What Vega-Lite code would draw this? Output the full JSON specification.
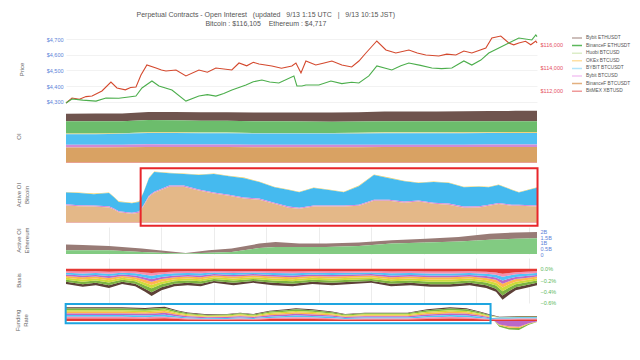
{
"$schema": "https://vega.github.io/schema/vega-lite/v6.json",
"background": "white",
"padding": {"left": 14, "top": 10, "right": 0, "bottom": 0},
"spacing": 4,
"bounds": "flush",
"title": {"text": ["Perpetual Contracts - Open Interest\u00a0\u00a0\u00a0(updated\u00a0\u00a0\u00a09/13 1:15 UTC\u00a0\u00a0\u00a0|\u00a0\u00a0\u00a09/13 10:15 JST)", "Bitcoin : $116,105\u00a0\u00a0\u00a0\u00a0Ethereum : $4,717"], "fontSize": 7, "fontWeight": "normal", "color": "#555", "lineHeight": 9, "offset": 6, "anchor": "middle", "dx": -57},
"config": {
  "font": "Liberation Sans",
  "view": {"stroke": null},
  "axis": {"labelFontSize": 5.5, "titleFontSize": 6, "titleFontWeight": "normal", "titleColor": "#666", "labelColor": "#666", "ticks": false, "domain": false, "gridColor": "#ececec", "labelPadding": 3},
  "title": {"fontSize": 6, "fontWeight": "normal", "color": "#666"}
},
"resolve": {"scale": {"fill": "independent", "color": "independent"}, "legend": {"fill": "independent", "color": "independent"}},
"datasets": {
"btc": [
{"t":1.45,"v":110974},{"t":2.37,"v":111402},{"t":3.5,"v":111300},{"t":4.5,"v":111520},{"t":5.42,"v":111573},{"t":6.93,"v":112000},{"t":8.3,"v":112770},{"t":9.22,"v":112257},{"t":10.5,"v":112100},{"t":11.3,"v":112300},{"t":12.12,"v":112342},{"t":12.88,"v":113368},{"t":13.78,"v":114223},{"t":15.17,"v":113967},{"t":16,"v":113800},{"t":16.68,"v":113710},{"t":18.22,"v":113796},{"t":19.73,"v":113283},{"t":21.72,"v":113796},{"t":23,"v":113600},{"t":24.3,"v":113967},{"t":26.73,"v":113796},{"t":27.82,"v":114394},{"t":29,"v":114150},{"t":30,"v":114450},{"t":30.87,"v":114309},{"t":32.83,"v":114138},{"t":34.3,"v":113950},{"t":35.88,"v":114138},{"t":36.5,"v":114394},{"t":37.27,"v":113539},{"t":38.02,"v":114565},{"t":39.53,"v":114223},{"t":40.8,"v":114400},{"t":41.98,"v":114565},{"t":43.5,"v":114223},{"t":45,"v":114050},{"t":46.1,"v":114565},{"t":47.17,"v":115249},{"t":48.83,"v":116275},{"t":50.22,"v":115506},{"t":51.73,"v":115249},{"t":53.72,"v":115506},{"t":55,"v":115250},{"t":56.3,"v":115078},{"t":58.28,"v":114993},{"t":59.5,"v":115150},{"t":60.88,"v":115078},{"t":62.1,"v":115420},{"t":63.32,"v":115249},{"t":65.45,"v":115677},{"t":66.37,"v":116532},{"t":67.73,"v":116703},{"t":68.95,"v":116104},{"t":69.7,"v":115950},{"t":70.48,"v":116104},{"t":71.5,"v":116250},{"t":72.3,"v":115950},{"t":73.07,"v":116275},{"t":73.25,"v":116105}
],
"eth": [
{"t":1.45,"v":4292},{"t":2.36,"v":4317},{"t":4,"v":4310},{"t":6.02,"v":4304},{"t":7.54,"v":4324},{"t":9.5,"v":4322},{"t":11,"v":4330},{"t":12.11,"v":4336},{"t":13.03,"v":4388},{"t":14.55,"v":4433},{"t":15.62,"v":4401},{"t":17.6,"v":4375},{"t":19.73,"v":4304},{"t":21.71,"v":4336},{"t":23,"v":4345},{"t":24.3,"v":4336},{"t":25.5,"v":4352},{"t":26.74,"v":4375},{"t":28.88,"v":4407},{"t":30,"v":4428},{"t":31.31,"v":4439},{"t":32.5,"v":4426},{"t":33.9,"v":4420},{"t":36.19,"v":4465},{"t":36.65,"v":4401},{"t":37.41,"v":4401},{"t":38.02,"v":4407},{"t":40,"v":4407},{"t":41.83,"v":4433},{"t":43.5,"v":4416},{"t":45,"v":4425},{"t":46.1,"v":4420},{"t":47.62,"v":4465},{"t":48.84,"v":4529},{"t":51.12,"v":4503},{"t":52.5,"v":4530},{"t":53.71,"v":4548},{"t":55.5,"v":4533},{"t":57.22,"v":4516},{"t":58.7,"v":4512},{"t":60.27,"v":4516},{"t":62.1,"v":4561},{"t":63.31,"v":4535},{"t":64.69,"v":4567},{"t":65.9,"v":4612},{"t":67.43,"v":4644},{"t":68.95,"v":4676},{"t":70.48,"v":4708},{"t":72.46,"v":4696},{"t":73.07,"v":4728},{"t":73.25,"v":4717}
],
"oi": [
{"t":1.45,"a":5.4,"b":8.6,"c":0.2,"d":0.3,"e":7.4,"f":1.9,"g":10.6,"h":0.3},
{"t":6,"a":5.5,"b":8.5,"c":0.2,"d":0.3,"e":7.5,"f":1.9,"g":10.6,"h":0.3},
{"t":10,"a":5.5,"b":8.4,"c":0.2,"d":0.3,"e":7.6,"f":1.9,"g":10.7,"h":0.3},
{"t":14,"a":5.7,"b":8.6,"c":0.2,"d":0.3,"e":7.9,"f":1.9,"g":11.0,"h":0.3},
{"t":18,"a":5.8,"b":8.5,"c":0.2,"d":0.3,"e":8.0,"f":1.8,"g":11.0,"h":0.3},
{"t":22,"a":5.9,"b":8.4,"c":0.2,"d":0.3,"e":7.9,"f":1.8,"g":10.9,"h":0.3},
{"t":26,"a":6.0,"b":8.3,"c":0.2,"d":0.3,"e":7.9,"f":1.8,"g":10.9,"h":0.3},
{"t":30,"a":6.2,"b":8.2,"c":0.2,"d":0.3,"e":7.8,"f":1.8,"g":10.8,"h":0.3},
{"t":34,"a":6.3,"b":8.1,"c":0.2,"d":0.3,"e":7.8,"f":1.8,"g":10.8,"h":0.3},
{"t":38,"a":6.4,"b":8.0,"c":0.2,"d":0.3,"e":7.8,"f":1.8,"g":10.8,"h":0.3},
{"t":42,"a":6.5,"b":7.9,"c":0.2,"d":0.3,"e":7.8,"f":1.8,"g":10.8,"h":0.3},
{"t":46,"a":6.6,"b":7.9,"c":0.2,"d":0.3,"e":7.9,"f":1.8,"g":10.8,"h":0.3},
{"t":50,"a":6.8,"b":7.8,"c":0.3,"d":0.4,"e":8.0,"f":1.7,"g":10.9,"h":0.3},
{"t":54,"a":6.9,"b":7.7,"c":0.3,"d":0.4,"e":8.0,"f":1.7,"g":10.9,"h":0.3},
{"t":58,"a":7.0,"b":7.7,"c":0.3,"d":0.4,"e":8.0,"f":1.7,"g":10.9,"h":0.3},
{"t":62,"a":7.1,"b":7.6,"c":0.3,"d":0.4,"e":8.1,"f":1.7,"g":10.9,"h":0.3},
{"t":66,"a":7.2,"b":7.6,"c":0.3,"d":0.4,"e":8.1,"f":1.7,"g":11.0,"h":0.3},
{"t":70,"a":7.3,"b":7.5,"c":0.3,"d":0.4,"e":8.2,"f":1.7,"g":11.0,"h":0.3},
{"t":73.25,"a":7.4,"b":7.5,"c":0.3,"d":0.4,"e":8.2,"f":1.7,"g":11.0,"h":0.3}
],
"abtc": [
{"t":1.45,"d":0.02,"e":0.43,"f":0.04,"g":0.62,"h":0.015},
{"t":3.4,"d":0.02,"e":0.44,"f":0.04,"g":0.59,"h":0.015},
{"t":5.7,"d":0.02,"e":0.41,"f":0.04,"g":0.58,"h":0.015},
{"t":8,"d":0.02,"e":0.48,"f":0.04,"g":0.55,"h":0.015},
{"t":8.76,"d":0.02,"e":0.41,"f":0.04,"g":0.47,"h":0.015},
{"t":9.5,"d":0.02,"e":0.34,"f":0.04,"g":0.37,"h":0.015},
{"t":11.5,"d":0.02,"e":0.34,"f":0.04,"g":0.32,"h":0.015},
{"t":12.6,"d":0.02,"e":0.35,"f":0.04,"g":0.36,"h":0.015},
{"t":13.3,"d":0.02,"e":0.46,"f":0.04,"g":0.61,"h":0.015},
{"t":14.1,"d":0.02,"e":0.63,"f":0.04,"g":0.94,"h":0.015},
{"t":14.9,"d":0.02,"e":0.71,"f":0.04,"g":1.08,"h":0.015},
{"t":17.2,"d":0.02,"e":0.45,"f":0.04,"g":1.30,"h":0.015},
{"t":19.4,"d":0.02,"e":0.42,"f":0.04,"g":1.30,"h":0.015},
{"t":21.7,"d":0.02,"e":0.52,"f":0.04,"g":1.16,"h":0.015},
{"t":24,"d":0.02,"e":0.67,"f":0.04,"g":1.05,"h":0.015},
{"t":26.3,"d":0.02,"e":0.67,"f":0.04,"g":0.97,"h":0.015},
{"t":28.6,"d":0.02,"e":0.70,"f":0.04,"g":0.87,"h":0.015},
{"t":30.9,"d":0.02,"e":0.60,"f":0.04,"g":0.83,"h":0.015},
{"t":33.2,"d":0.02,"e":0.56,"f":0.04,"g":0.68,"h":0.015},
{"t":35.4,"d":0.02,"e":0.60,"f":0.04,"g":0.54,"h":0.015},
{"t":37,"d":0.02,"e":0.56,"f":0.04,"g":0.50,"h":0.015},
{"t":39.2,"d":0.02,"e":0.63,"f":0.04,"g":0.58,"h":0.015},
{"t":41.5,"d":0.02,"e":0.56,"f":0.04,"g":0.58,"h":0.015},
{"t":43.8,"d":0.02,"e":0.48,"f":0.04,"g":0.58,"h":0.015},
{"t":46.1,"d":0.02,"e":0.67,"f":0.04,"g":0.61,"h":0.015},
{"t":48.4,"d":0.02,"e":0.89,"f":0.04,"g":0.79,"h":0.015},
{"t":50.7,"d":0.02,"e":0.78,"f":0.04,"g":0.79,"h":0.015},
{"t":53,"d":0.02,"e":0.74,"f":0.04,"g":0.72,"h":0.015},
{"t":55.2,"d":0.02,"e":0.63,"f":0.04,"g":0.76,"h":0.015},
{"t":57.5,"d":0.02,"e":0.75,"f":0.04,"g":0.68,"h":0.015},
{"t":59.8,"d":0.02,"e":0.74,"f":0.04,"g":0.65,"h":0.015},
{"t":62.1,"d":0.02,"e":0.70,"f":0.04,"g":0.54,"h":0.015},
{"t":64.4,"d":0.02,"e":0.71,"f":0.04,"g":0.55,"h":0.015},
{"t":65.9,"d":0.02,"e":0.63,"f":0.04,"g":0.61,"h":0.015},
{"t":67.4,"d":0.02,"e":0.65,"f":0.04,"g":0.67,"h":0.015},
{"t":69.4,"d":0.02,"e":0.53,"f":0.04,"g":0.61,"h":0.015},
{"t":70.5,"d":0.02,"e":0.44,"f":0.04,"g":0.61,"h":0.015},
{"t":73.25,"d":0.02,"e":0.64,"f":0.04,"g":0.58,"h":0.015}
],
"aeth": [
{"t":1.45,"a":0.50,"b":0.33},{"t":4,"a":0.47,"b":0.33},{"t":8,"a":0.38,"b":0.33},{"t":13,"a":0.30,"b":0.18},{"t":16.7,"a":0.18,"b":0.09},{"t":19.7,"a":0.05,"b":0.04},{"t":23.2,"a":0.21,"b":0.12},{"t":26.7,"a":0.30,"b":0.18},{"t":30.9,"a":0.39,"b":0.53},{"t":33.4,"a":0.44,"b":0.62},{"t":37,"a":0.30,"b":0.62},{"t":41.1,"a":0.30,"b":0.62},{"t":46.1,"a":0.30,"b":0.71},{"t":51.1,"a":0.29,"b":0.92},{"t":56.3,"a":0.35,"b":1.01},{"t":61.3,"a":0.40,"b":1.10},{"t":66,"a":0.55,"b":1.25},{"t":70,"a":0.55,"b":1.35},{"t":73.25,"a":0.55,"b":1.40}
],
"basis": [
{"t":1.45,"h":-0.043,"g":-0.027,"f":-0.032,"e":-0.027,"d":-0.032,"c":-0.032,"b":-0.038,"a":-0.038},
{"t":4,"h":-0.051,"g":-0.032,"f":-0.038,"e":-0.032,"d":-0.038,"c":-0.038,"b":-0.045,"a":-0.045},
{"t":6,"h":-0.046,"g":-0.029,"f":-0.035,"e":-0.029,"d":-0.035,"c":-0.035,"b":-0.041,"a":-0.041},
{"t":8,"h":-0.054,"g":-0.034,"f":-0.041,"e":-0.034,"d":-0.041,"c":-0.041,"b":-0.048,"a":-0.048},
{"t":10,"h":-0.043,"g":-0.027,"f":-0.032,"e":-0.027,"d":-0.032,"c":-0.032,"b":-0.038,"a":-0.038},
{"t":12,"h":-0.050,"g":-0.031,"f":-0.037,"e":-0.031,"d":-0.037,"c":-0.037,"b":-0.043,"a":-0.043},
{"t":13.5,"h":-0.066,"g":-0.041,"f":-0.049,"e":-0.041,"d":-0.049,"c":-0.049,"b":-0.057,"a":-0.057},
{"t":14.5,"h":-0.077,"g":-0.048,"f":-0.058,"e":-0.048,"d":-0.058,"c":-0.058,"b":-0.067,"a":-0.067},
{"t":16,"h":-0.061,"g":-0.038,"f":-0.046,"e":-0.038,"d":-0.046,"c":-0.046,"b":-0.053,"a":-0.053},
{"t":18,"h":-0.050,"g":-0.031,"f":-0.037,"e":-0.031,"d":-0.037,"c":-0.037,"b":-0.043,"a":-0.043},
{"t":20,"h":-0.046,"g":-0.029,"f":-0.035,"e":-0.029,"d":-0.035,"c":-0.035,"b":-0.041,"a":-0.041},
{"t":22,"h":-0.050,"g":-0.031,"f":-0.037,"e":-0.031,"d":-0.037,"c":-0.037,"b":-0.043,"a":-0.043},
{"t":24,"h":-0.040,"g":-0.025,"f":-0.030,"e":-0.025,"d":-0.030,"c":-0.030,"b":-0.035,"a":-0.035},
{"t":27,"h":-0.046,"g":-0.029,"f":-0.035,"e":-0.029,"d":-0.035,"c":-0.035,"b":-0.041,"a":-0.041},
{"t":30,"h":-0.040,"g":-0.025,"f":-0.030,"e":-0.025,"d":-0.030,"c":-0.030,"b":-0.035,"a":-0.035},
{"t":33,"h":-0.046,"g":-0.029,"f":-0.035,"e":-0.029,"d":-0.035,"c":-0.035,"b":-0.041,"a":-0.041},
{"t":36,"h":-0.050,"g":-0.031,"f":-0.037,"e":-0.031,"d":-0.037,"c":-0.037,"b":-0.043,"a":-0.043},
{"t":39,"h":-0.043,"g":-0.027,"f":-0.032,"e":-0.027,"d":-0.032,"c":-0.032,"b":-0.038,"a":-0.038},
{"t":42,"h":-0.046,"g":-0.029,"f":-0.035,"e":-0.029,"d":-0.035,"c":-0.035,"b":-0.041,"a":-0.041},
{"t":45,"h":-0.043,"g":-0.027,"f":-0.032,"e":-0.027,"d":-0.032,"c":-0.032,"b":-0.038,"a":-0.038},
{"t":48,"h":-0.040,"g":-0.025,"f":-0.030,"e":-0.025,"d":-0.030,"c":-0.030,"b":-0.035,"a":-0.035},
{"t":51,"h":-0.050,"g":-0.031,"f":-0.037,"e":-0.031,"d":-0.037,"c":-0.037,"b":-0.043,"a":-0.043},
{"t":54,"h":-0.046,"g":-0.029,"f":-0.035,"e":-0.029,"d":-0.035,"c":-0.035,"b":-0.041,"a":-0.041},
{"t":57,"h":-0.051,"g":-0.032,"f":-0.038,"e":-0.032,"d":-0.038,"c":-0.038,"b":-0.045,"a":-0.045},
{"t":60,"h":-0.051,"g":-0.032,"f":-0.038,"e":-0.032,"d":-0.038,"c":-0.038,"b":-0.045,"a":-0.045},
{"t":63,"h":-0.046,"g":-0.029,"f":-0.035,"e":-0.029,"d":-0.035,"c":-0.035,"b":-0.041,"a":-0.041},
{"t":65.5,"h":-0.054,"g":-0.034,"f":-0.041,"e":-0.034,"d":-0.041,"c":-0.041,"b":-0.048,"a":-0.048},
{"t":67,"h":-0.066,"g":-0.041,"f":-0.049,"e":-0.041,"d":-0.049,"c":-0.049,"b":-0.057,"a":-0.057},
{"t":68,"h":-0.088,"g":-0.055,"f":-0.066,"e":-0.055,"d":-0.066,"c":-0.066,"b":-0.077,"a":-0.077},
{"t":69,"h":-0.074,"g":-0.046,"f":-0.055,"e":-0.046,"d":-0.055,"c":-0.055,"b":-0.064,"a":-0.064},
{"t":70,"h":-0.061,"g":-0.038,"f":-0.046,"e":-0.038,"d":-0.046,"c":-0.046,"b":-0.053,"a":-0.053},
{"t":71.5,"h":-0.054,"g":-0.034,"f":-0.041,"e":-0.034,"d":-0.041,"c":-0.041,"b":-0.048,"a":-0.048},
{"t":73.25,"h":-0.046,"g":-0.029,"f":-0.035,"e":-0.029,"d":-0.035,"c":-0.035,"b":-0.041,"a":-0.041}
],
"fund": [
{"t":1.45,"h":0.013,"g":0.009,"f":0.009,"e":0.009,"d":0.009,"c":0.008,"b":0.009,"a":0.006},
{"t":6,"h":0.013,"g":0.009,"f":0.009,"e":0.009,"d":0.009,"c":0.008,"b":0.009,"a":0.006},
{"t":10,"h":0.013,"g":0.009,"f":0.009,"e":0.009,"d":0.009,"c":0.008,"b":0.009,"a":0.006},
{"t":13.5,"h":0.012,"g":0.008,"f":0.009,"e":0.009,"d":0.008,"c":0.008,"b":0.009,"a":0.005},
{"t":15,"h":0.013,"g":0.009,"f":0.009,"e":0.009,"d":0.009,"c":0.008,"b":0.009,"a":0.006},
{"t":16.5,"h":0.014,"g":0.009,"f":0.010,"e":0.010,"d":0.009,"c":0.008,"b":0.009,"a":0.006},
{"t":18.5,"h":0.010,"g":0.007,"f":0.007,"e":0.007,"d":0.007,"c":0.006,"b":0.007,"a":0.004},
{"t":20,"h":0.008,"g":0.005,"f":0.006,"e":0.006,"d":0.005,"c":0.005,"b":0.006,"a":0.004},
{"t":23,"h":0.006,"g":0.004,"f":0.005,"e":0.005,"d":0.004,"c":0.004,"b":0.004,"a":0.003},
{"t":26,"h":0.007,"g":0.004,"f":0.005,"e":0.005,"d":0.004,"c":0.004,"b":0.005,"a":0.003},
{"t":28,"h":0.008,"g":0.005,"f":0.006,"e":0.006,"d":0.005,"c":0.005,"b":0.006,"a":0.003},
{"t":30,"h":0.007,"g":0.004,"f":0.005,"e":0.005,"d":0.004,"c":0.004,"b":0.005,"a":0.003},
{"t":32.5,"h":0.010,"g":0.006,"f":0.007,"e":0.007,"d":0.007,"c":0.006,"b":0.007,"a":0.004},
{"t":35,"h":0.011,"g":0.007,"f":0.008,"e":0.008,"d":0.008,"c":0.007,"b":0.008,"a":0.005},
{"t":36.5,"h":0.012,"g":0.008,"f":0.009,"e":0.009,"d":0.008,"c":0.007,"b":0.009,"a":0.005},
{"t":39,"h":0.011,"g":0.007,"f":0.008,"e":0.008,"d":0.008,"c":0.007,"b":0.008,"a":0.005},
{"t":42,"h":0.009,"g":0.006,"f":0.007,"e":0.007,"d":0.006,"c":0.005,"b":0.006,"a":0.004},
{"t":44,"h":0.007,"g":0.004,"f":0.005,"e":0.005,"d":0.004,"c":0.004,"b":0.005,"a":0.003},
{"t":47,"h":0.008,"g":0.005,"f":0.006,"e":0.006,"d":0.005,"c":0.005,"b":0.006,"a":0.003},
{"t":50,"h":0.008,"g":0.005,"f":0.006,"e":0.006,"d":0.005,"c":0.005,"b":0.006,"a":0.003},
{"t":53.5,"h":0.008,"g":0.005,"f":0.006,"e":0.006,"d":0.005,"c":0.005,"b":0.006,"a":0.003},
{"t":56.5,"h":0.011,"g":0.007,"f":0.008,"e":0.008,"d":0.008,"c":0.007,"b":0.008,"a":0.005},
{"t":60,"h":0.013,"g":0.009,"f":0.009,"e":0.009,"d":0.009,"c":0.008,"b":0.009,"a":0.006},
{"t":62.5,"h":0.012,"g":0.008,"f":0.009,"e":0.009,"d":0.008,"c":0.007,"b":0.009,"a":0.005},
{"t":64.5,"h":0.009,"g":0.006,"f":0.007,"e":0.007,"d":0.006,"c":0.005,"b":0.006,"a":0.004},
{"t":66,"h":0.006,"g":0.004,"f":0.005,"e":0.005,"d":0.004,"c":0.004,"b":0.004,"a":0.003},
{"t":67.5,"h":0.007,"g":0.005,"f":0.006,"e":-0.018,"d":-0.004,"c":0.002,"b":-0.008,"a":0.002},
{"t":69,"h":0.007,"g":0.005,"f":0.007,"e":-0.028,"d":-0.007,"c":0.002,"b":-0.010,"a":0.003},
{"t":70.5,"h":0.008,"g":0.005,"f":0.007,"e":-0.030,"d":-0.007,"c":0.003,"b":-0.011,"a":0.003},
{"t":72,"h":0.008,"g":0.005,"f":0.007,"e":-0.012,"d":-0.003,"c":0.003,"b":-0.005,"a":0.003},
{"t":73.25,"h":0.008,"g":0.005,"f":0.007,"e":-0.003,"d":-0.001,"c":0.003,"b":-0.001,"a":0.003}
],
"leg": [{"s":"Bybit ETHUSDT"},{"s":"BinanceF ETHUSDT"},{"s":"Huobi BTCUSD"},{"s":"OKEx BTCUSD"},{"s":"BYBIT BTCUSDT"},{"s":"Bybit BTCUSD"},{"s":"BinanceF BTCUSDT"},{"s":"BitMEX XBTUSD"}],
"box1": [{"t1":12.83,"t2":73.33,"v1":1.98,"v2":-0.098}],
"box2": [{"t1":1.4,"t2":66.17,"v1":0.0895,"v2":-0.0121}]
},
"vconcat": [
{
 "width": 471, "height": 73,
 "title": {"text": "Price", "orient": "left", "anchor": "middle", "offset": 21},
 "resolve": {"scale": {"y": "independent"}},
 "layer": [
  {"data": {"name": "btc"}, "mark": {"type": "line", "color": "#d4492e", "strokeWidth": 1.1},
   "encoding": {
    "x": {"field": "t", "type": "quantitative", "scale": {"domain": [1.45, 73.25], "nice": false, "zero": false}, "axis": {"labels": false, "ticks": false, "domain": false, "title": null, "grid": true, "values": [8,16,24,32,40,48,56,64,72]}},
    "y": {"field": "v", "type": "quantitative", "scale": {"domain": [110717, 116959], "nice": false, "zero": false}, "axis": {"orient": "right", "values": [112000, 114000, 116000], "format": "$,.0f", "labelColor": "#e5505f", "grid": false, "title": null}}
   }},
  {"data": {"name": "eth"}, "mark": {"type": "line", "color": "#4cae4c", "strokeWidth": 1.1},
   "encoding": {
    "x": {"field": "t", "type": "quantitative", "axis": null},
    "y": {"field": "v", "type": "quantitative", "scale": {"domain": [4272.4, 4740.4], "nice": false, "zero": false}, "axis": {"orient": "left", "values": [4300, 4400, 4500, 4600, 4700], "format": "$,.0f", "labelColor": "#5b82d8", "grid": true, "gridColor": "#f2f2f2", "title": null}}
   }}
 ]
},
{
 "width": 471, "height": 53,
 "title": {"text": "OI", "orient": "left", "anchor": "middle", "offset": 44},
 "layer": [
  {"data": {"name": "oi"}, "transform": [{"fold": ["a","b","c","d","e","f","g","h"], "as": ["key","value"]}],
   "mark": {"type": "area"},
   "encoding": {
    "x": {"field": "t", "type": "quantitative", "scale": {"domain": [1.45, 73.25], "nice": false, "zero": false}, "axis": {"labels": false, "ticks": false, "domain": false, "title": null, "grid": true, "values": [8,16,24,32,40,48,56,64,72]}},
    "y": {"field": "value", "type": "quantitative", "stack": "zero", "scale": {"domain": [0, 37.3], "nice": false}, "axis": {"orient": "right", "values": [0, 10, 20, 30], "format": "~g", "labelExpr": "datum.value == 0 ? '0' : datum.label + 'B'", "grid": false, "title": null}},
    "fill": {"field": "key", "type": "nominal", "scale": {"domain": ["a","b","c","d","e","f","g","h"], "range": ["#6f544e","#6cbd6c","#c5e1a5","#f2c45a","#50c0f2","#d08ad6","#d9a263","#e57373"]}, "legend": null}
   }},
  {"data": {"name": "leg"}, "mark": {"type": "line"},
   "encoding": {
    "x": {"field": "t", "type": "quantitative", "axis": null},
    "y": {"field": "value", "type": "quantitative", "axis": null},
    "color": {"field": "s", "type": "nominal", "scale": {"domain": ["Bybit ETHUSDT","BinanceF ETHUSDT","Huobi BTCUSD","OKEx BTCUSD","BYBIT BTCUSDT","Bybit BTCUSD","BinanceF BTCUSDT","BitMEX XBTUSD"], "range": ["#bcaaa4","#5cb85c","#dcedc8","#ffe0a3","#b3e5fc","#f3c6f3","#e3b07f","#ef9a9a"]},
      "legend": {"orient": "none", "legendX": 505, "legendY": -75, "title": null, "symbolType": "stroke", "symbolSize": 100, "symbolStrokeWidth": 1.5, "labelFontSize": 4.8, "labelColor": "#555", "rowPadding": 1.6, "clipHeight": 6, "labelOffset": 3}}
   }}
 ]
},
{
 "width": 471, "height": 56,
 "title": {"text": ["Active OI", "Bitcoin"], "orient": "left", "anchor": "middle", "offset": 36, "lineHeight": 8},
 "layer": [
  {"data": {"name": "abtc"}, "transform": [{"fold": ["d","e","f","g","h"], "as": ["key","value"]}],
   "mark": {"type": "area"},
   "encoding": {
    "x": {"field": "t", "type": "quantitative", "scale": {"domain": [1.45, 73.25], "nice": false, "zero": false}, "axis": {"labels": false, "ticks": false, "domain": false, "title": null, "grid": true, "values": [8,16,24,32,40,48,56,64,72]}},
    "y": {"field": "value", "type": "quantitative", "stack": "zero", "scale": {"domain": [0, 2.029], "nice": false}, "axis": {"orient": "right", "values": [0, 0.5, 1, 1.5], "format": "~g", "labelExpr": "datum.value == 0 ? '0' : datum.label + 'B'", "labelColor": "#e5505f", "grid": false, "title": null}},
    "fill": {"field": "key", "type": "nominal", "scale": {"domain": ["d","e","f","g","h"], "range": ["#f0cf5a","#45baef","#d48bd8","#e4b888","#e8909a"]}, "legend": null}
   }},
  {"data": {"name": "box1"}, "mark": {"type": "rect", "filled": false, "color": "#e8262b", "strokeWidth": 2},
   "encoding": {
    "x": {"field": "t1", "type": "quantitative", "axis": null},
    "x2": {"field": "t2"},
    "y": {"field": "v1", "type": "quantitative", "axis": null},
    "y2": {"field": "v2"}
   }}
 ]
},
{
 "width": 471, "height": 27,
 "title": {"text": ["Active OI", "Ethereum"], "orient": "left", "anchor": "middle", "offset": 36, "lineHeight": 8},
 "layer": [
  {"data": {"name": "aeth"}, "transform": [{"fold": ["a","b"], "as": ["key","value"]}],
   "mark": {"type": "area"},
   "encoding": {
    "x": {"field": "t", "type": "quantitative", "scale": {"domain": [1.45, 73.25], "nice": false, "zero": false}, "axis": {"labels": false, "ticks": false, "domain": false, "title": null, "grid": true, "values": [8,16,24,32,40,48,56,64,72]}},
    "y": {"field": "value", "type": "quantitative", "stack": "zero", "scale": {"domain": [0, 2.389], "nice": false}, "axis": {"orient": "right", "values": [0, 0.5, 1, 1.5, 2], "format": "~g", "labelExpr": "datum.value == 0 ? '0' : datum.label + 'B'", "labelColor": "#5b82d8", "grid": false, "title": null}},
    "fill": {"field": "key", "type": "nominal", "scale": {"domain": ["a","b"], "range": ["#987b76","#82cb82"]}, "legend": null}
   }}
 ]
},
{
 "width": 471, "height": 45,
 "title": {"text": "Basis", "orient": "left", "anchor": "middle", "offset": 44},
 "layer": [
  {"data": {"name": "basis"}, "transform": [{"fold": ["a","b","c","d","e","f","g","h"], "as": ["key","value"]}],
   "mark": {"type": "area"},
   "encoding": {
    "x": {"field": "t", "type": "quantitative", "scale": {"domain": [1.45, 73.25], "nice": false, "zero": false}, "axis": {"labels": false, "ticks": false, "domain": false, "title": null, "grid": true, "values": [8,16,24,32,40,48,56,64,72]}},
    "y": {"field": "value", "type": "quantitative", "stack": "zero", "scale": {"domain": [-0.6055, 0.189], "nice": false, "zero": false}, "axis": {"orient": "right", "values": [0, -0.2, -0.4, -0.6], "format": ".1f", "labelExpr": "datum.label + '%'", "labelColor": "#5cb85c", "grid": false, "title": null}},
    "fill": {"field": "key", "type": "nominal", "scale": {"domain": ["a","b","c","d","e","f","g","h"], "range": ["#5d4037","#7cb342","#cddc39","#ffb74d","#ba68c8","#4fc3f7","#f48fb1","#e53935"]}, "legend": null}
   }}
 ]
},
{
 "width": 471, "height": 27,
 "title": {"text": ["Funding", "Rate"], "orient": "left", "anchor": "middle", "offset": 36, "lineHeight": 8},
 "layer": [
  {"data": {"name": "fund"}, "transform": [{"fold": ["a","b","c","d","e","f","g","h"], "as": ["key","value"]}],
   "mark": {"type": "area"},
   "encoding": {
    "x": {"field": "t", "type": "quantitative", "scale": {"domain": [1.45, 73.25], "nice": false, "zero": false}, "axis": {"labels": true, "ticks": false, "domain": false, "title": null, "grid": true, "values": [8,16,24,32,40,48,56,64,72], "labelExpr": "datum.value == 8 ? ['08:00', '9/10'] : (datum.value % 24 == 0 ? ['00:00', '9/' + (10 + datum.value / 24)] : ((datum.value % 24 < 10 ? '0' : '') + (datum.value % 24) + ':00'))", "labelLineHeight": 7.5, "labelPadding": 6}},
    "y": {"field": "value", "type": "quantitative", "stack": "zero", "scale": {"domain": [-0.0684, 0.0737], "nice": false, "zero": false}, "axis": {"orient": "right", "values": [0.05, 0, -0.05], "format": ".2f", "labelExpr": "datum.label + '%'", "grid": false, "title": null}},
    "fill": {"field": "key", "type": "nominal", "scale": {"domain": ["a","b","c","d","e","f","g","h"], "range": ["#5d4037","#7cb342","#cddc39","#ffb74d","#ba68c8","#4fc3f7","#f48fb1","#e53935"]}, "legend": null}
   }},
  {"data": {"name": "box2"}, "mark": {"type": "rect", "filled": false, "color": "#1ea5e0", "strokeWidth": 2},
   "encoding": {
    "x": {"field": "t1", "type": "quantitative", "axis": null},
    "x2": {"field": "t2"},
    "y": {"field": "v1", "type": "quantitative", "axis": null},
    "y2": {"field": "v2"}
   }}
 ]
}
]
}
